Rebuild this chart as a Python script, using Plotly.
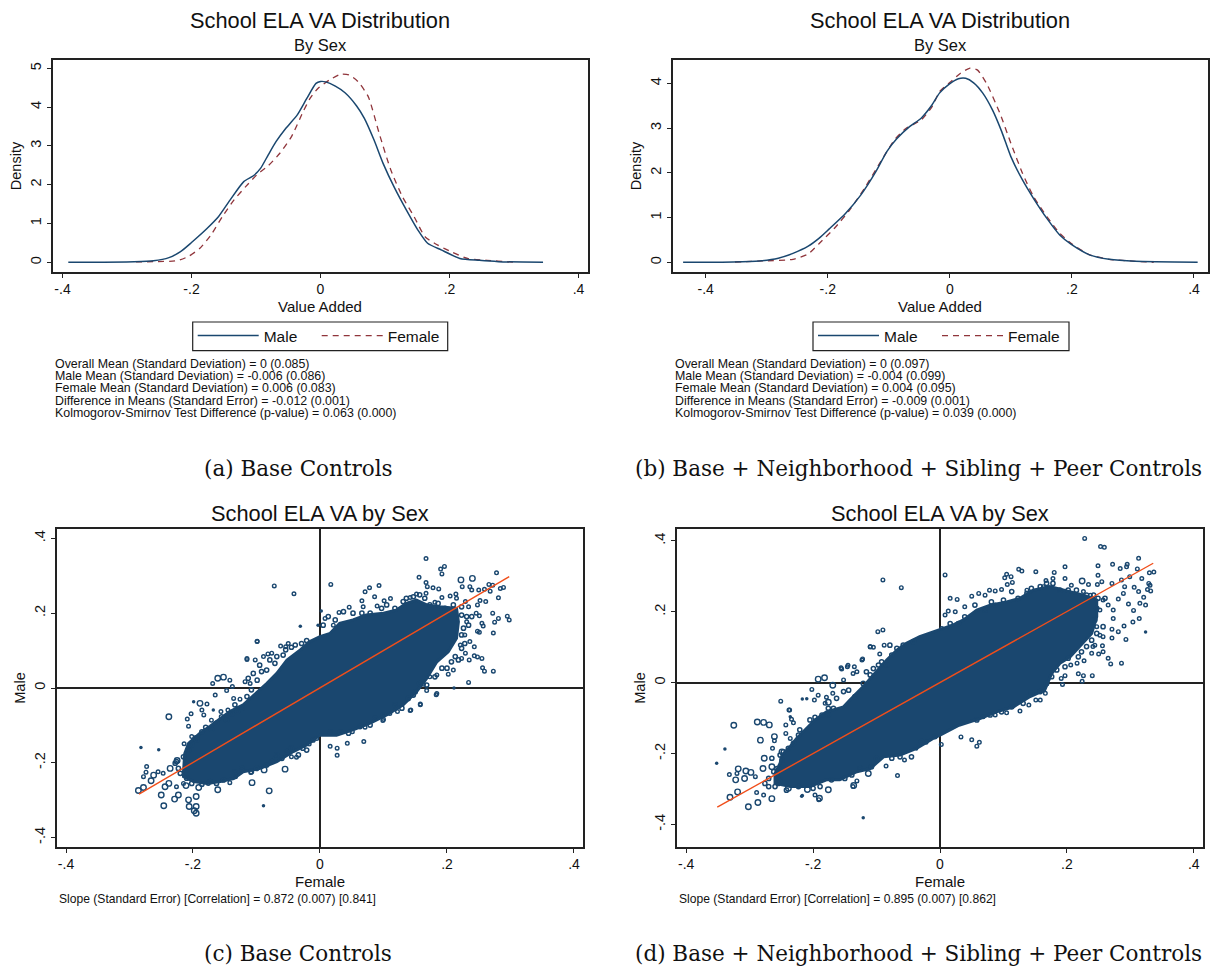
import plotly.graph_objects as go

W, H = 1210, 966
NAVY = "#1a476f"
MAROON = "#90353b"
ORANGE = "#f04e1a"
SANS = "Liberation Sans"
SERIF = "DejaVu Serif"

# ---- density curves: (value added, density)
a_male = [(-.391,0),(-.289,.017),(-.259,.04),(-.235,.12),(-.217,.275),(-.2,.51),(-.176,.87),(-.158,1.18),(-.14,1.61),(-.119,2.08),(-.104,2.23),(-.093,2.42),(-.081,2.77),(-.069,3.11),(-.054,3.45),(-.036,3.80),(-.021,4.23),(-.007,4.61),(0,4.66),(.008,4.65),(.023,4.54),(.038,4.37),(.056,4.03),(.068,3.71),(.083,3.15),(.097,2.55),(.115,1.91),(.133,1.35),(.151,.83),(.166,.49),(.187,.32),(.216,.10),(.246,.05),(.276,.017),(.345,0)]
a_female = [(-.286,.01),(-.259,.017),(-.223,.04),(-.205,.15),(-.187,.36),(-.170,.70),(-.152,1.18),(-.134,1.61),(-.116,1.95),(-.099,2.25),(-.081,2.49),(-.063,2.81),(-.045,3.24),(-.027,3.88),(-.016,4.23),(-.004,4.48),(.014,4.70),(.032,4.85),(.044,4.83),(.058,4.66),(.074,4.27),(.091,3.32),(.109,2.38),(.127,1.69),(.145,1.18),(.162,.66),(.181,.45),(.204,.26),(.228,.10),(.258,.05),(.293,.01),(.30,0)]
b_male = [(-.437,0),(-.355,.007),(-.312,.03),(-.281,.09),(-.257,.20),(-.232,.36),(-.214,.54),(-.198,.74),(-.171,1.09),(-.146,1.50),(-.121,2.03),(-.103,2.48),(-.087,2.76),(-.066,3.03),(-.047,3.22),(-.029,3.52),(-.017,3.78),(-.001,3.98),(.014,4.10),(.026,4.11),(.039,4.01),(.054,3.78),(.070,3.40),(.085,2.92),(.100,2.36),(.119,1.84),(.137,1.43),(.159,.98),(.180,.61),(.199,.40),(.230,.16),(.261,.067),(.304,.022),(.406,0)]
b_female = [(-.352,.007),(-.306,.03),(-.257,.067),(-.232,.186),(-.214,.42),(-.189,.76),(-.164,1.17),(-.140,1.65),(-.115,2.21),(-.091,2.73),(-.072,2.99),(-.047,3.18),(-.029,3.48),(-.017,3.81),(.002,4.04),(.017,4.22),(.033,4.34),(.045,4.30),(.060,4.0),(.082,3.33),(.100,2.66),(.119,1.99),(.137,1.47),(.159,1.02),(.180,.65),(.199,.42),(.230,.16),(.261,.067),(.304,.022),(.334,0)]

# ---- scatter panels: dense core outline (female, male)
c_core = [(-.215,-.224),(-.213,-.175),(-.207,-.148),(-.189,-.121),(-.173,-.102),(-.157,-.081),(-.142,-.063),(-.121,-.045),(-.100,-.014),(-.084,.012),(-.068,.039),(-.052,.075),(-.031,.102),(-.016,.124),(0,.137),(.016,.146),(.031,.173),(.052,.182),(.073,.195),(.100,.200),(.121,.209),(.136,.226),(.152,.235),(.168,.222),(.189,.217),(.215,.213),(.218,.177),(.215,.133),(.202,.097),(.184,.070),(.168,.026),(.152,-.010),(.131,-.045),(.105,-.072),(.079,-.094),(.052,-.112),(.026,-.126),(0,-.126),(-.021,-.152),(-.042,-.170),(-.068,-.197),(-.094,-.215),(-.121,-.224),(-.136,-.242),(-.157,-.250),(-.178,-.255),(-.199,-.250),(-.215,-.237)]
d_core = [(-.260,-.256),(-.252,-.227),(-.249,-.204),(-.236,-.180),(-.226,-.157),(-.210,-.129),(-.197,-.105),(-.179,-.082),(-.152,-.068),(-.142,-.049),(-.121,-.011),(-.105,.022),(-.084,.064),(-.068,.092),(-.053,.111),(-.032,.130),(0,.149),(.021,.163),(.037,.177),(.058,.205),(.079,.219),(.105,.228),(.126,.238),(.147,.261),(.173,.271),(.194,.261),(.226,.247),(.247,.233),(.247,.186),(.239,.139),(.220,.102),(.205,.073),(.189,.055),(.176,.026),(.165,-.021),(.142,-.039),(.116,-.068),(.089,-.082),(.063,-.101),(.03,-.12),(0,-.148),(-.011,-.157),(-.037,-.185),(-.063,-.204),(-.089,-.209),(-.110,-.242),(-.131,-.251),(-.158,-.274),(-.179,-.274),(-.205,-.293),(-.236,-.293),(-.260,-.284)]

# ---- scatter panels: schools outside the core, by marker weight
c_large = [(-.161,.026),(-.152,.029),(-.238,-.077),(-.286,-.274),(-.278,-.266),(-.266,-.248),(-.262,-.233),(-.250,-.286),(-.246,-.315),(-.229,-.297),(-.223,-.286),(-.195,-.290),(-.207,-.299),(-.206,-.317),(-.195,-.317),(-.225,-.194),(-.189,-.041),(-.195,-.135),(-.161,-.272),(-.107,-.253),(-.080,-.275),(-.055,-.217),(-.069,-.188),(-.088,-.219),(-.211,-.261),(-.191,-.266),(-.236,-.215),(-.244,-.264),(-.238,-.255),(-.198,-.328),(-.195,-.335),(.222,.289),(.240,.293)]
c_medium = [(-.169,.012),(-.142,.021),(-.147,-.007),(-.138,.004),(-.115,.079),(-.102,.075),(-.089,.084),(-.076,.093),(-.062,.112),(-.050,.119),(-.099,.124),(-.178,-.043),(-.186,-.059),(-.203,-.069),(-.207,-.102),(-.209,-.083),(-.171,-.086),(-.183,-.072),(-.156,-.063),(-.145,-.059),(-.202,-.130),(-.214,-.149),(-.273,-.210),(-.274,-.225),(-.278,-.237),(-.255,-.224),(-.247,-.228),(-.226,-.264),(-.215,-.255),(-.176,-.255),(-.142,-.253),(-.133,-.237),(-.109,-.226),(-.037,-.185),(-.045,-.184),(-.017,-.150),(-.005,-.135),(-.126,-.030),(-.110,.012),(-.118,.017),(-.136,-.028),(-.165,-.019),
 (.167,.346),(.190,.318),(.196,.325),(.192,.305),(.156,.296),(.167,.282),(.169,.271),(.178,.268),(.187,.265),(.224,.271),(.236,.271),(.239,.262),(.278,.308),(.289,.269),(.284,.266),(.268,.259),(.272,.275),(.266,.277),(.259,.264),(.250,.262),(.281,.241),(.261,.231),(.252,.234),(.248,.222),(.272,.200),(.295,.192),(.298,.182),(.281,.186),(.275,.176),(.273,.147),(.251,.193),(.246,.200),(.255,.173),(.257,.166),(.248,.152),(.251,.149),(.236,.124),(.243,.110),(.229,.093),(.243,.086),(.248,.083),(.255,.079),(.235,.075),(.223,.079),(.256,.054),(.259,.045),(.273,.045),(.234,.015),(.184,-.015),(.163,.010),(.168,-.007),(.158,-.043),(.143,-.059),(.110,-.068),(.122,-.063),(.100,-.084),(.071,-.105),(.051,-.117),(.017,.277),(.093,.274),(.078,.268),(.071,.257),(.086,.244),(.066,.233),(.111,.239),(.101,.233),(.046,.216),(.030,.202),(.008,.186),(.021,.168),(.068,.217),(.090,.219),(.152,.251),(.142,.242),(.167,.253),(.181,.229),(.205,.246),(.214,.251),(.215,.240),(.229,.231),(.192,.242),(.234,.217),(.231,.177),(.228,.142),(.221,.115),(.210,.048),(.202,.037),(.184,.035),(.173,.030),
 (-.072,.273),(-.041,.252),(-.099,.125),(-.115,.076),(-.054,.11),(-.082,.091),(.027,-.161),(.027,-.180),(.043,-.148),(.069,-.143),(.016,-.156),(.142,-.06),(.158,-.045),(.183,-.018),(.099,-.087)]
c_rim = [(-.207,-.166),(-.202,-.152),(-.194,-.139),(-.186,-.117),(-.180,-.105),(-.171,-.110),(-.163,-.094),(-.155,-.077),(-.147,-.086),(-.139,-.069),(-.134,-.045),(-.130,-.063),(-.123,-.054),(-.115,-.023),(-.108,-.005),(-.113,.026),(-.105,.039),(-.099,.021),(-.092,.044),(-.095,.061),(-.084,.048),(-.079,.075),(-.071,.066),(-.068,.084),(-.058,.088),(-.054,.102),(-.045,.109),(-.039,.115),(-.029,.119),(-.021,.127),
 (-.210,-.241),(-.202,-.255),(-.186,-.257),(-.173,-.250),(-.163,-.255),(-.152,-.246),(-.134,-.224),(-.123,-.215),(-.108,-.224),(-.100,-.215),(-.084,-.206),(-.076,-.197),(-.068,-.179),(-.060,-.188),(-.052,-.170),(-.045,-.161),(-.034,-.179),(-.027,-.161),(-.021,-.166),(-.011,-.139),(-.223,-.215),(-.226,-.197),(-.220,-.228),(-.228,-.201),(-.215,-.184),
 (.005,.168),(.013,.191),(.024,.182),(.037,.204),(.052,.200),(.066,.200),(.079,.200),(.097,.213),(.105,.222),(.118,.213),(.131,.231),(.136,.240),(.147,.244),(.157,.249),(.165,.240),(.173,.222),(.186,.226),(.197,.213),(.210,.222),(.223,.217),(.223,.195),(.231,.191),(.239,.191),(.226,.160),(.234,.168),(.223,.142),(.228,.119),(.223,.106),(.213,.084),(.218,.075),(.207,.070),(.200,.053),(.192,.053),(.181,.030),(.168,.008),(.157,.012),(.150,-.010),(.139,-.028),(.147,-.019),(.129,-.054),(.118,-.045),(.100,-.072),(.087,-.081),(.079,-.099),(.063,-.103),(.045,-.121),(.032,-.117),(.016,-.117)]
c_small = [(-.282,-.159),(-.254,-.165),(-.199,-.037),(-.168,-.059),(-.089,-.315),(.211,0),(.002,.206),(-.031,.165),(-.003,.168)]

d_large = [(-.192,.010),(-.182,.014),(-.277,-.213),(-.302,-.350),(-.287,-.338),(-.265,-.327),(-.331,-.323),(-.319,-.308),(-.322,-.274),(-.306,-.249),(-.298,-.253),(-.308,-.270),(-.279,-.242),(-.265,-.237),(-.176,-.302),(-.209,-.301),(-.239,-.298),(-.190,-.326),(-.113,-.256),(-.176,-.055),(-.169,-.007),(-.136,-.290),(-.325,-.120),(-.288,-.111),(-.278,-.112),(-.269,-.119),(-.283,-.162),(-.261,-.152),(-.249,-.195),(-.318,-.243),(.224,.287)]
d_medium = [(-.251,-.052),(-.237,-.077),(-.243,-.119),(-.231,-.113),(-.234,-.103),(-.202,-.019),(-.192,-.035),(-.198,-.049),(-.179,-.041),(-.261,-.164),(-.243,-.143),(-.264,-.185),(-.236,-.157),(-.332,-.259),(-.291,-.265),(-.320,-.256),(-.289,-.310),(-.278,-.317),(-.197,-.317),(-.131,-.277),(-.067,-.262),(-.085,-.235),(-.056,-.218),(-.022,-.168),(-.156,.042),(-.145,.049),(-.135,.045),(-.123,.064),(-.110,.102),(-.105,.100),(-.088,.106),(-.095,.081),(-.137,.026),(-.131,.031),(-.152,.008),(-.169,-.030),(-.181,-.058),
 (.228,.407),(.253,.384),(.259,.382),(.313,.351),(.008,.304),(.124,.320),(.129,.315),(.151,.313),(.180,.311),(.197,.327),(.249,.330),(.272,.334),(.284,.322),(.295,.334),(.294,.327),(.311,.321),(.330,.310),(.337,.312),(.249,.303),(.299,.299),(.318,.294),(.329,.280),(.331,.275),(.327,.263),(.332,.259),(.313,.257),(.306,.269),(.291,.271),(.286,.290),(.255,.285),(.248,.277),(.234,.277),(.271,.280),(.321,.241),(.315,.224),(.324,.219),(.297,.222),(.305,.204),(.314,.181),(.304,.171),(.290,.160),(.281,.144),(.293,.122),(.271,.151),(.271,.126),(.265,.069),(.269,.053),(.286,.055),(.227,.062),(.206,.050),(.216,.055),(.218,.025),(.226,.020),(.240,.020),(.224,.004),(.197,.020),(.191,.012),(.193,-.005),(.166,-.030),(.158,-.049),(.151,-.049),(.140,-.063),(.126,-.080),(.105,-.085),(.087,-.091),(.068,-.096),(.257,.087),(.250,.081),(.239,.083),(.256,.104),(.241,.102),(.257,.130),(.273,.181),(.265,.219),(.273,.205),(.289,.252),(.281,.236),(.105,.306),(.102,.296),(.112,.299),(.114,.283),(.097,.263),(.106,.277),(.016,.238),(.027,.235),(.061,.252),(.071,.247),(.078,.261),(.087,.259),(.050,.244),(.039,.214),(.024,.200),(.013,.202),(.008,.191),(.003,.153),(.087,.219),(.137,.261),(.167,.288),(.178,.294),(.197,.294),(.207,.275),(.163,.271),(.226,.257),(.237,.247),(.257,.233),(.252,.205),(.247,.158),(.252,.134),(.244,.106),
 (-.090,.29),(-.061,.268),(-.098,.144),(-.09,.149),(-.11,.101),(-.122,.067),(-.155,.039),(-.146,.045),(-.238,-.077),(.002,-.174),(.058,-.179),(.05,-.161),(.062,-.168),(.033,-.153),(-.137,-.293),(-.191,-.330)]
d_rim = [(-.252,-.204),(-.247,-.195),(-.239,-.185),(-.231,-.171),(-.223,-.148),(-.221,-.133),(-.205,-.105),(-.197,-.098),(-.186,-.091),(-.176,-.091),(-.176,-.072),(-.168,-.072),(-.163,-.044),(-.152,-.025),(-.144,-.021),(-.134,-.039),(-.121,-.002),(-.110,.022),(-.116,.031),(-.105,.040),(-.097,.050),(-.092,.059),(-.084,.050),(-.076,.078),(-.068,.097),(-.058,.106),(-.042,.116),(-.079,.106),
 (-.255,-.284),(-.242,-.303),(-.223,-.293),(-.200,-.298),(-.189,-.293),(-.171,-.274),(-.150,-.270),(-.139,-.260),(-.126,-.242),(-.108,-.237),(-.100,-.213),(-.076,-.213),(-.063,-.209),(-.045,-.209),(-.029,-.166),(-.008,-.152),(-.270,-.293),(-.276,-.284),(-.270,-.270),(-.260,-.293),(-.252,-.274),(-.262,-.251),(-.257,-.242),(-.249,-.218),(-.265,-.213),
 (.016,.167),(.029,.167),(.039,.186),(.055,.219),(.071,.205),(.081,.228),(.100,.233),(.113,.257),(.123,.238),(.137,.252),(.144,.266),(.158,.271),(.168,.280),(.178,.280),(.189,.261),(.202,.261),(.215,.261),(.231,.247),(.242,.247),(.249,.238),(.260,.238),(.247,.210),(.244,.177),(.257,.158),(.247,.139),(.239,.120),(.231,.102),(.223,.087),(.218,.073),(.202,.069),(.197,.045),(.184,.036),(.176,.017),(.168,-.002),(.158,-.025),(.144,-.030),(.131,-.058),(.113,-.068),(.097,-.082),(.079,-.091),(.058,-.105)]
d_small = [(-.352,-.227),(-.339,-.187),(-.121,-.381),(-.217,-.046),(-.210,-.045),(-.236,-.096),(-.217,-.318),(-.037,-.187),(.324,.143),(-.218,-.320)]

# ---- fitted lines (female, male)
c_fit = [(-.285,-.284),(.298,.298)]
d_fit = [(-.351,-.351),(.336,.337)]

x_ticks = [-.4, -.2, 0, .2, .4]
x_labels = ["-.4", "-.2", "0", ".2", ".4"]
a_yticks = [0, 1, 2, 3, 4, 5]
b_yticks = [0, 1, 2, 3, 4]
series_names = ["Male", "Female"]
note_lines_a = ["Overall Mean (Standard Deviation) = 0 (0.085)",
                "Male Mean (Standard Deviation) = -0.006 (0.086)",
                "Female Mean (Standard Deviation) = 0.006 (0.083)",
                "Difference in Means (Standard Error) = -0.012 (0.001)",
                "Kolmogorov-Smirnov Test Difference (p-value) = 0.063 (0.000)"]
note_lines_b = ["Overall Mean (Standard Deviation) = 0 (0.097)",
                "Male Mean (Standard Deviation) = -0.004 (0.099)",
                "Female Mean (Standard Deviation) = 0.004 (0.095)",
                "Difference in Means (Standard Error) = -0.009 (0.001)",
                "Kolmogorov-Smirnov Test Difference (p-value) = 0.039 (0.000)"]
note_c = "Slope (Standard Error) [Correlation] = 0.872 (0.007) [0.841]"
note_d = "Slope (Standard Error) [Correlation] = 0.895 (0.007) [0.862]"


def xy(pairs):
    return [p[0] for p in pairs], [p[1] for p in pairs]


def dom_x(l, r):
    return [l / W, r / W]


def dom_y(t, b):
    return [1 - b / H, 1 - t / H]


fig = go.Figure()


def axis_common():
    return dict(showgrid=False, showline=True, linecolor="#222222", linewidth=1.6, mirror=True,
                ticks="outside", ticklen=4, tickcolor="#222222", tickwidth=1,
                tickfont=dict(family=SANS, size=14, color="#111111"))


panels = {
    "a": dict(ax="", dx=(52.5, 588), dy=(60, 272), xr=(-.4155, .4147), yr=(-.25, 5.214)),
    "b": dict(ax="2", dx=(672.6, 1207.6), dy=(60, 272), xr=(-.4542, .4223), yr=(-.217, 4.52)),
    "c": dict(ax="3", dx=(56.6, 583), dy=(529, 847), xr=(-.4148, .4142), yr=(-.4251, .4251)),
    "d": dict(ax="4", dx=(677, 1202.7), dy=(529, 847), xr=(-.4145, .414), yr=(-.4634, .4336)),
}
for k, p in panels.items():
    xa = axis_common()
    ya = axis_common()
    xa.update(domain=dom_x(*p["dx"]), range=list(p["xr"]), tickvals=x_ticks, ticktext=x_labels,
              anchor="y" + p["ax"], zeroline=False, ticklabelstandoff=-1)
    ya.update(domain=dom_y(*p["dy"]), range=list(p["yr"]), tickangle=-90,
              anchor="x" + p["ax"], zeroline=False, title_standoff=3)
    ya["tickfont"] = dict(family=SANS, size=14.5, color="#111111")
    ya["title_font"] = dict(family=SANS, size=14.5, color="#111111")
    if k in "ab":
        ya["title_text"] = "Density"
        ya["tickvals"] = a_yticks if k == "a" else b_yticks
    else:
        ya["title_text"] = "Male"
        ya["tickvals"] = x_ticks
        ya["ticktext"] = x_labels
        for axis in (xa, ya):
            axis.update(zeroline=True, zerolinecolor="#222222", zerolinewidth=1.5)
    fig.update_layout({"xaxis" + p["ax"]: xa, "yaxis" + p["ax"]: ya})


def add_density(male, female, ax, legend):
    mx, my = xy(male)
    fx, fy = xy(female)
    fig.add_trace(go.Scatter(x=fx, y=fy, mode="lines", name=series_names[1], xaxis="x" + ax, yaxis="y" + ax,
                             legend=legend, legendrank=2, line=dict(color=MAROON, width=1.3, dash="6px,5px", shape="spline", smoothing=.6)))
    fig.add_trace(go.Scatter(x=mx, y=my, mode="lines", name=series_names[0], xaxis="x" + ax, yaxis="y" + ax,
                             legend=legend, legendrank=1, line=dict(color=NAVY, width=1.5, shape="spline", smoothing=.6)))


add_density(a_male, a_female, "", "legend")
add_density(b_male, b_female, "2", "legend2")


def add_scatter(core, large, medium, rim, small, fit, ax):
    cx, cy = xy(core)
    kw = dict(xaxis="x" + ax, yaxis="y" + ax, showlegend=False)
    fig.add_trace(go.Scatter(x=cx + cx[:1], y=cy + cy[:1], mode="lines", fill="toself", fillcolor=NAVY,
                             line=dict(color=NAVY, width=3), **kw))
    for pts, size, sym, lw in ((large, 5.5, "circle-open", 1.4), (medium, 3.6, "circle-open", 1.4),
                               (rim, 4.2, "circle-open", 1.5), (small, 3.5, "circle", 0)):
        px, py = xy(pts)
        fig.add_trace(go.Scatter(x=px, y=py, mode="markers",
                                 marker=dict(color=NAVY, size=size, symbol=sym, line=dict(color=NAVY, width=lw)), **kw))
    fx, fy = xy(fit)
    fig.add_trace(go.Scatter(x=fx, y=fy, mode="lines", line=dict(color=ORANGE, width=1.4), **kw))


add_scatter(c_core, c_large, c_medium, c_rim, c_small, c_fit, "3")
add_scatter(d_core, d_large, d_medium, d_rim, d_small, d_fit, "4")

anns = []


def txt(s, x, y, size, family=SANS, anchor="center"):
    anns.append(dict(text=s, x=x / W, y=1 - y / H, xref="paper", yref="paper", showarrow=False,
                     xanchor=anchor, yanchor="middle", font=dict(family=family, size=size, color="#111111")))


for cx in (320.3, 940):
    txt("School ELA VA Distribution", cx, 21, 21.8)
    txt("By Sex", cx, 45, 16.5)
    txt("Value Added", cx, 306, 15)
txt("School ELA VA by Sex", 320, 513, 21.8)
txt("School ELA VA by Sex", 940, 513, 21.8)
txt("Female", 320, 881, 15)
txt("Female", 940, 881, 15)
for ys, lines, x0 in (((364, 376, 387.7, 401, 413), note_lines_a, 53), ((364, 376, 387.7, 401, 413), note_lines_b, 673)):
    for y, s in zip(ys, lines):
        txt(s, x0, y, 12.4, anchor="left")
txt(note_c, 57, 899, 12.1, anchor="left")
txt(note_d, 677.4, 899, 12.1, anchor="left")
txt("(a) Base Controls", 298, 468, 21.5, SERIF)
txt("(b) Base + Neighborhood + Sibling + Peer Controls", 918, 468, 21.5, SERIF)
txt("(c) Base Controls", 298, 953, 21.5, SERIF)
txt("(d) Base + Neighborhood + Sibling + Peer Controls", 918, 953, 21.5, SERIF)


def legend_cfg(left):
    return dict(orientation="h", x=left / W, y=1 - 319 / H, xanchor="left", yanchor="top",
                borderwidth=0, bgcolor="rgba(0,0,0,0)", itemwidth=61, entrywidth=48,
                font=dict(family=SANS, size=15.5, color="#111111"), itemclick=False, itemdoubleclick=False,
                traceorder="normal")


def legend_frame(l, r):
    return dict(type="rect", xref="paper", yref="paper", x0=l / W, x1=r / W, y0=1 - 350.7 / H, y1=1 - 322 / H,
                line=dict(color="#222222", width=1.2), fillcolor="white", layer="below")


fig.update_layout(width=W, height=H, autosize=False, margin=dict(l=0, r=0, t=0, b=0),
                  paper_bgcolor="white", plot_bgcolor="white", annotations=anns,
                  shapes=[legend_frame(192.7, 447.7), legend_frame(813, 1069)],
                  legend=legend_cfg(192.7), legend2=legend_cfg(813), hovermode=False)

fig.write_html("out.html", config=dict(displayModeBar=False),
               post_script="document.body.style.margin='0';document.body.style.overflow='hidden';")
